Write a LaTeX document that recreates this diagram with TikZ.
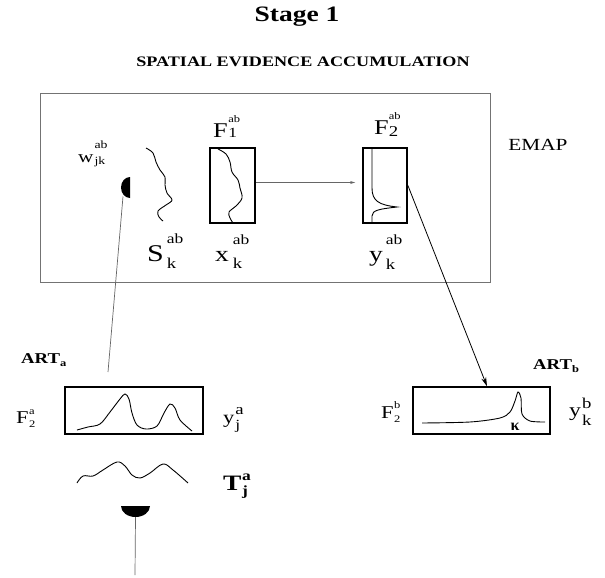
\documentclass[tikz,border=0pt]{standalone}
\usepackage{fontspec}
\setmainfont{Liberation Serif}
\usetikzlibrary{arrows.meta}
\newcommand{\W}[1]{\scalebox{1.25}[1]{#1}}
\newcommand{\fs}[1]{\fontsize{#1}{#1}\selectfont}
% base size, base, sup, sub, sup raise, sub raise, sup size, sub size, gap
\newcommand{\lab}[9]{\W{\fs{#1}#2}\kern#9\rlap{\raisebox{#5}{\W{\fs{#7}#3}}}\raisebox{#6}{\W{\fs{#8}#4}}}
\tikzset{
  emapbox/.style={draw=black!55, line width=0.8pt, minimum width=450pt, minimum height=189pt, inner sep=0pt},
  layerbox/.style={draw, line width=1.8pt, inner sep=0pt, minimum width=44pt, minimum height=75pt},
  artbox/.style={draw, line width=1.5pt, inner sep=0pt, minimum width=137pt, minimum height=47pt},
  wave/.style={line width=0.9pt},
  thinline/.style={draw=black!60, line width=0.7pt},
  lbl/.style={anchor=base west, inner sep=0pt}
}
\begin{document}
\begin{tikzpicture}[x=1pt,y=-1pt]
\useasboundingbox (0,0) rectangle (605,578);

% titles
\node (title) at (297,17) {\W{\fs{22}\bfseries Stage 1}};
\node (subtitle) at (303,62) {\W{\fs{14.5}\bfseries SPATIAL EVIDENCE ACCUMULATION}};

% EMAP
\node[emapbox] (emap) at (265,187.5) {};
\node (emaplabel) at (538,145) {\W{\fs{17}EMAP}};

\node[layerbox, minimum width=45pt] (f1) at (232.5,185.5) {};
\node[layerbox] (f2) at (385,185.5) {};

% weight disc
\coordinate (wdisc) at (130,187.5);
\fill ([yshift=10.5pt]wdisc) arc[start angle=90, end angle=270, x radius=9pt, y radius=10.5pt] -- cycle;

% S wave
\draw[wave] plot[smooth, tension=0.6] coordinates {(146,148) (153,153) (156,162) (160,170) (165,177) (165,185) (167,193) (172,200) (166,205) (158,211) (159,217) (163,221)};
% F1 wave
\draw[wave] plot[smooth, tension=0.6] coordinates {(218,149) (226,154) (230,162) (232,172) (238,180) (240,188) (242,198) (236,206) (229,212) (230,218) (233,223)};
% F2 curve
\draw[wave] (372,149) -- (372,188) .. controls (372,201) and (379,205) .. (397,207) .. controls (380,209) and (372,210) .. (372,216) -- (372,223);

% EMAP labels
\node[lbl] (wlab) at (78,162) {\lab{17}{w}{ab}{jk}{14pt}{-2pt}{11}{11}{1pt}};
\node[lbl] (f1lab) at (213,137) {\lab{21}{F}{ab}{1}{15pt}{0pt}{10}{14}{0.5pt}};
\node[lbl] (slab) at (147,261) {\lab{24}{S}{ab}{k}{18pt}{-7pt}{14}{15}{3pt}};
\node[lbl] (xlab) at (215,261) {\lab{22}{x}{ab}{k}{17pt}{-7pt}{14}{15}{4pt}};
\node[lbl] (f2lab) at (374,134) {\lab{21}{F}{ab}{2}{15pt}{-2pt}{10}{15}{0pt}};
\node[lbl] (ylab) at (369,261) {\lab{22}{y}{ab}{k}{17pt}{-8pt}{14}{15}{3pt}};

% connectors in EMAP
\draw[thinline, -{Stealth[length=5pt,width=3pt]}, shorten >=7pt] ([yshift=3pt]f1.east) -- ([yshift=3pt]f2.west);

% ART a
\node[lbl] (artalab) at (21,363) {\W{\fs{15}\bfseries ART}\raisebox{-3pt}{\W{\fs{10}\bfseries a}}};
\node[artbox, minimum width=138pt] (f2a) at (134,410.5) {};
\draw[wave] plot[smooth, tension=0.55] coordinates {(77,430) (88,427) (100,424) (110,412) (120,399) (125,394) (129,399) (132,413) (137,425) (146,429) (157,426) (164,413) (170,404) (175,408) (180,420) (192,431)};
\node[lbl] (f2alab) at (16,423) {\lab{18}{F}{a}{2}{9pt}{-4pt}{10}{10}{0.5pt}};
\node[lbl] (yalab) at (223,423) {\lab{18}{y}{a}{j}{9pt}{-6pt}{15}{14}{1pt}};

% T wave
\draw[wave] plot[smooth, tension=0.6] coordinates {(77,483) (83,476) (93,476) (103,470) (117,462) (125,466) (132,475) (140,478) (150,473) (163,464) (173,470) (188,483)};
\node[lbl] (talab) at (223,490) {\lab{22}{\bfseries T}{\bfseries a}{\bfseries j}{10pt}{-5pt}{14}{14}{0.5pt}};

% input disc and line
\coordinate (tdisc) at (135.5,506);
\fill ([xshift=-14.5pt]tdisc) arc[start angle=180, end angle=360, x radius=14.5pt, y radius=11pt] -- cycle;
\coordinate (tline) at (135,575);
\draw[thinline] ([yshift=-11pt]tdisc) -- (tline);

% weight line to ART a
\coordinate (wend) at (108,372);
\draw[thinline] ([xshift=-7pt,yshift=-9pt]wdisc) -- (wend);

% ART b
\node[lbl] (artblab) at (533,369) {\W{\fs{15}\bfseries ART}\raisebox{-3pt}{\W{\fs{10}\bfseries b}}};
\node[artbox] (f2b) at (481.5,410.5) {};
\draw[wave] plot[smooth, tension=0.5] coordinates {(422,423) (470,422) (500,418) (510,412) (515,401) (518,392) (521,398) (522,414) (530,421) (545,422)};
\node (kappa) at (515,427) {\fs{16}\bfseries κ};
\node[lbl] (f2blab) at (381,418) {\lab{18}{F}{b}{2}{10pt}{-4pt}{10}{10}{0.5pt}};
\node[lbl] (yblab) at (569,416) {\lab{19}{y}{b}{k}{8pt}{-9pt}{15}{15}{1pt}};

\draw[line width=0.8pt, -{Stealth[length=9pt,width=5pt]}] (f2.east) -- ([xshift=5.5pt]f2b.north);
\end{tikzpicture}
\end{document}
